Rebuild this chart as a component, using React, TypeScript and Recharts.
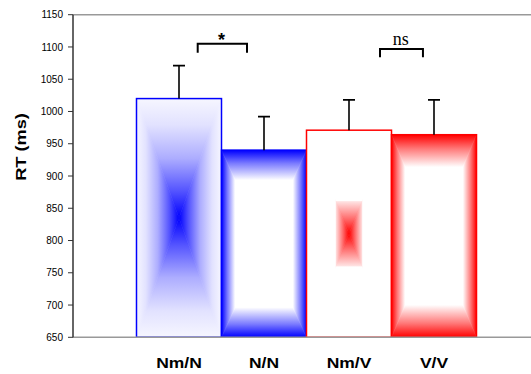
import React from 'react';
import { BarChart, Bar, XAxis, YAxis, ReferenceLine } from 'recharts';

// ─── Data ─────────────────────────────────────────────────────────────────────

const conditions = ['Nm/N', 'N/N', 'Nm/V', 'V/V'];
const meanRT = [1020, 940, 971, 964];
const errorRT = [51, 52, 47, 54];
const yTicks = [650, 700, 750, 800, 850, 900, 950, 1000, 1050, 1100, 1150];

// significance comparisons: [left bar, right bar]
const comparisonPairs = [
  [0, 1],
  [2, 3],
];
const comparisonLabels = ['*', 'ns'];
const bracketLevels = [1105, 1097];
const bracketLegEnds = [1091, 1084];

const Y_MIN = yTicks[0];
const Y_MAX = yTicks[yTicks.length - 1];

const chartData = conditions.map((condition, i) => ({
  condition,
  rt: meanRT[i],
  err: errorRT[i],
}));

// ─── Styles ───────────────────────────────────────────────────────────────────

type Stop = [number, string];

const palettes: Record<string, Stop[]> = {
  blueCenter: [
    [0, '#0000ff'],
    [0.22, '#5252ff'],
    [0.5, '#adadff'],
    [0.78, '#e2e2ff'],
    [1, '#f6f6ff'],
  ],
  blueEdge: [
    [0, '#ffffff'],
    [0.68, '#ffffff'],
    [0.86, '#7a7aff'],
    [1, '#0000ff'],
  ],
  redSpot: [
    [0, '#ff0000'],
    [0.15, '#ff7070'],
    [0.31, '#ffe2e2'],
    [0.32, '#ffffff'],
    [1, '#ffffff'],
  ],
  redEdge: [
    [0, '#ffffff'],
    [0.68, '#ffffff'],
    [0.86, '#ff7a7a'],
    [1, '#ff0000'],
  ],
};

const barPalette = ['blueCenter', 'blueEdge', 'redSpot', 'redEdge'];
const barStroke = ['#0000ff', '#0000ff', '#ff0000', '#ff0000'];

// direction vectors: from center (offset 0) to edge (offset 1), in bbox units
const directions: Record<string, [number, number, number, number]> = {
  up: [0, 1, 0, 0],
  down: [0, 0, 0, 1],
  left: [1, 0, 0, 0],
  right: [0, 0, 1, 0],
};

const GradientDefs = () => (
  <defs>
    {Object.entries(palettes).map(([name, stops]) =>
      Object.entries(directions).map(([dir, [x1, y1, x2, y2]]) => (
        <linearGradient key={`${name}-${dir}`} id={`g-${name}-${dir}`} x1={x1} y1={y1} x2={x2} y2={y2}>
          {stops.map(([o, c], k) => (
            <stop key={k} offset={o} stopColor={c} />
          ))}
        </linearGradient>
      ))
    )}
  </defs>
);

// ─── Bar shape: box gradient + whisker + bracket ─────────────────────────────

const GradientBar = (props: any) => {
  const { x, y, width, height, index, payload } = props;
  const pal = barPalette[index];
  const cx = x + width / 2;
  const cy = y + height / 2;
  const r = x + width;
  const b = y + height;
  const pxPerMs = height / (payload.rt - Y_MIN);
  const toPx = (v: number) => y - (v - payload.rt) * pxPerMs;

  const tris = [
    { dir: 'up', pts: `${x},${y} ${r},${y} ${cx},${cy}` },
    { dir: 'down', pts: `${x},${b} ${r},${b} ${cx},${cy}` },
    { dir: 'left', pts: `${x},${y} ${x},${b} ${cx},${cy}` },
    { dir: 'right', pts: `${r},${y} ${r},${b} ${cx},${cy}` },
  ];

  const errTop = toPx(payload.rt + payload.err);

  const cmp = comparisonPairs.findIndex((p) => p[0] === index);
  let bracket = null;
  if (cmp >= 0) {
    const span = cmp === 0 ? [0.72, 1.3] : [0.865, 1.37];
    const bx1 = x + span[0] * width;
    const bx2 = x + span[1] * width;
    const top = toPx(bracketLevels[cmp]);
    const leg = toPx(bracketLegEnds[cmp]);
    const isStar = comparisonLabels[cmp] === '*';
    bracket = (
      <g>
        <polyline
          points={`${bx1},${leg} ${bx1},${top} ${bx2},${top} ${bx2},${leg}`}
          fill="none"
          stroke="#000"
          strokeWidth={2}
        />
        <text
          x={isStar ? x + width : x + 1.11 * width}
          y={isStar ? top + 2.5 : top - 4}
          textAnchor="middle"
          fontSize={isStar ? 18 : 18}
          fontWeight={isStar ? 'bold' : 'normal'}
          fontFamily={isStar ? 'Liberation Sans, Arial, sans-serif' : 'Liberation Serif, Times New Roman, serif'}
          fill="#000"
        >
          {comparisonLabels[cmp]}
        </text>
      </g>
    );
  }

  return (
    <g>
      {tris.map((t) => (
        <polygon
          key={t.dir}
          points={t.pts}
          fill={`url(#g-${pal}-${t.dir})`}
          stroke={`url(#g-${pal}-${t.dir})`}
          strokeWidth={0.6}
        />
      ))}
      <rect x={x} y={y} width={width} height={height} fill="none" stroke={barStroke[index]} strokeWidth={1.5} />
      <line x1={cx} y1={y} x2={cx} y2={errTop} stroke="#000" strokeWidth={1.6} />
      <line x1={cx - 6} y1={errTop} x2={cx + 6} y2={errTop} stroke="#000" strokeWidth={1.6} />
      {bracket}
    </g>
  );
};

// ─── Axis labels ──────────────────────────────────────────────────────────────

const CategoryTick = (props: any) => {
  const { x, y, payload } = props;
  return (
    <text
      transform={`translate(${x},${y + 31}) scale(1.25,1)`}
      textAnchor="middle"
      fontSize={14}
      fontWeight="bold"
      fontFamily="Liberation Sans, Arial, sans-serif"
      fill="#000"
    >
      {payload.value}
    </text>
  );
};

const YTitle = (props: any) => {
  const vb = props.viewBox || { x: 0, y: 14.7, width: 73, height: 322.6 };
  const tx = vb.x + 20.5;
  const ty = vb.y + vb.height / 2 - 29;
  return (
    <text
      transform={`translate(${tx},${ty}) rotate(-90) scale(1.3,1)`}
      textAnchor="middle"
      dominantBaseline="central"
      fontSize={14}
      fontWeight="bold"
      fontFamily="Liberation Sans, Arial, sans-serif"
      fill="#000"
    >
      RT (ms)
    </text>
  );
};

// ─── Chart ────────────────────────────────────────────────────────────────────

export default function App() {
  return (
    <div style={{ position: 'absolute', left: 0, top: 0, width: 531, height: 374, background: '#fff' }}>
      <BarChart
        width={531}
        height={374}
        data={chartData}
        margin={{ top: 14.7, right: 0, bottom: 0, left: 0 }}
        barCategoryGap={0}
        barGap={0}
      >
        <GradientDefs />
        <XAxis
          dataKey="condition"
          padding={{ left: 63.5, right: 54.5 }}
          height={36.7}
          tickLine={false}
          tickSize={0}
          tickMargin={0}
          axisLine={{ stroke: '#999', strokeWidth: 1.5 }}
          tick={<CategoryTick />}
          interval={0}
        />
        <YAxis
          type="number"
          domain={[Y_MIN, Y_MAX]}
          ticks={yTicks}
          allowDataOverflow
          width={73}
          tickSize={5}
          tickMargin={5}
          tick={{ fontSize: 10, fill: '#000', fontFamily: 'Liberation Sans, Arial, sans-serif' }}
          tickLine={{ stroke: '#333' }}
          axisLine={{ stroke: '#333', strokeWidth: 1.5 }}
          label={<YTitle />}
        />
        <ReferenceLine y={Y_MAX} stroke="#999" strokeWidth={1.5} />
        <Bar dataKey="rt" shape={<GradientBar />} isAnimationActive={false} />
      </BarChart>
    </div>
  );
}
